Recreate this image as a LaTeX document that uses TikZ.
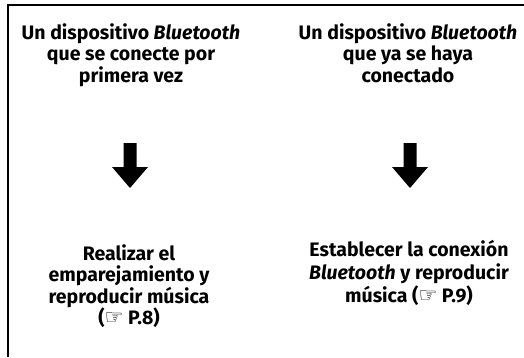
\documentclass[tikz,border=0pt]{standalone}
\usepackage{fontspec}
\setmainfont{Fira Sans}
\newfontfamily\handfont{DejaVu Sans}
\usetikzlibrary{positioning}

\begin{document}
\begin{tikzpicture}[x=1pt, y=1pt,
  caption/.style={align=center, inner sep=0pt, anchor=north,
    font=\fontsize{19.5}{21.5}\selectfont\bfseries},
  blockarrow/.style={fill=black}]
  \useasboundingbox (0,0) rectangle (524,357);
  % frame: top and left only
  \draw[line width=2pt] (8,0) -- (8,352) -- (524,352);
  \node[caption] (first) at (131,334)
    {Un dispositivo \textit{Bluetooth}\\que se conecte por\\primera vez};
  \node[caption] (known) at (408,334)
    {Un dispositivo \textit{Bluetooth}\\que ya se haya\\conectado};
  \node[caption] (pair) at (129,113)
    {Realizar el\\emparejamiento y\\reproducir música\\({\mdseries\handfont\fontsize{21}{21}\selectfont ☞} P.8)};
  \node[caption, font=\fontsize{19.5}{23}\selectfont\bfseries] (connect) at (409,117)
    {Establecer la conexión\\\textit{Bluetooth} y reproducir\\música ({\mdseries\handfont\fontsize{21}{21}\selectfont ☞} P.9)};
  % down arrows
  \coordinate (a1) at (130,214);
  \coordinate (a2) at (410,214);
  \fill[blockarrow] (a1) ++(-6.5,0) -- ++(13,0) -- ++(0,-24) -- ++(11.5,0)
    -- (130,169) -- ++(-18,21) -- ++(11.5,0) -- cycle;
  \fill[blockarrow] (a2) ++(-6.5,0) -- ++(13,0) -- ++(0,-24) -- ++(11.5,0)
    -- (410,169) -- ++(-18,21) -- ++(11.5,0) -- cycle;
\end{tikzpicture}
\end{document}
